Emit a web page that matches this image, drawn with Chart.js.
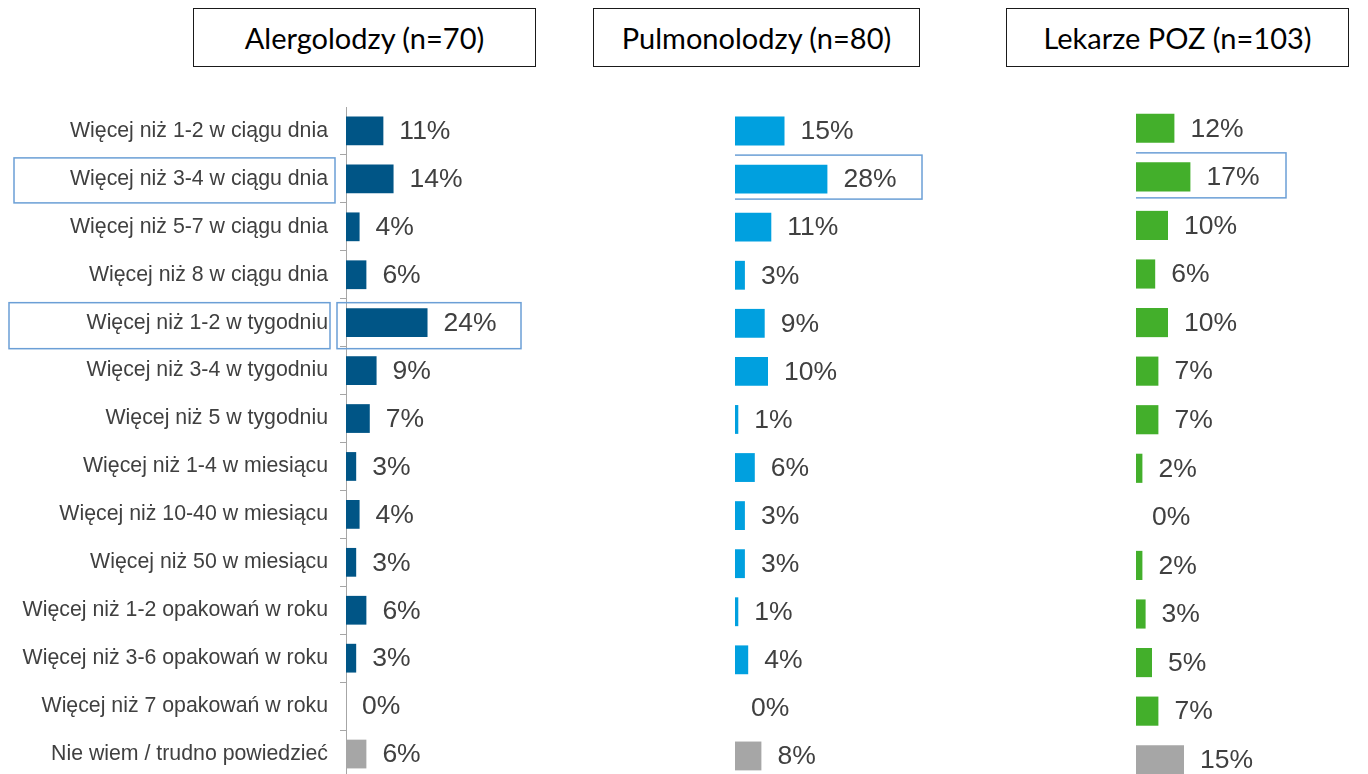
<!DOCTYPE html>
<html lang="pl">
<head>
    <meta charset="UTF-8">
    <title>Częstotliwość stosowania</title>
    <script src="https://cdn.jsdelivr.net/npm/chart.js@4.4.1/dist/chart.umd.min.js"></script>
    <style>
        html, body {
            margin: 0;
            padding: 0;
            width: 1368px;
            height: 774px;
            overflow: hidden;
            background: #ffffff;
        }

        .title-box {
            position: absolute;
            top: 8px;
            height: 57px;
            border: 1.5px solid #1a1a1a;
            display: flex;
            justify-content: center;
            align-items: center;
            font-family: 'Lato', 'Open Sans', sans-serif;
            font-size: 29px;
            color: #000;
            box-sizing: content-box;
        }

        .chart-wrap {
            position: absolute;
        }
    </style>
</head>
<body>

    <div class="title-box" style="left:193px; width:341px;">Alergolodzy (n=70)</div>
    <div class="title-box" style="left:593px; width:325px;">Pulmonolodzy (n=80)</div>
    <div class="title-box" style="left:1006px; width:341px;">Lekarze POZ (n=103)</div>

    <div class="chart-wrap" style="left:0px; top:107px; width:560px; height:671px;">
        <canvas id="chartAlerg"></canvas>
    </div>
    <div class="chart-wrap" style="left:735px; top:107px; width:231px; height:673px;">
        <canvas id="chartPulmo"></canvas>
    </div>
    <div class="chart-wrap" style="left:1136px; top:104px; width:192px; height:680px;">
        <canvas id="chartPoz"></canvas>
    </div>

    <script>
        // categories (answers)
        const categories = [
            'Więcej niż 1-2 w ciągu dnia',
            'Więcej niż 3-4 w ciągu dnia',
            'Więcej niż 5-7 w ciągu dnia',
            'Więcej niż 8 w ciągu dnia',
            'Więcej niż 1-2 w tygodniu',
            'Więcej niż 3-4 w tygodniu',
            'Więcej niż 5 w tygodniu',
            'Więcej niż 1-4 w miesiącu',
            'Więcej niż 10-40 w miesiącu',
            'Więcej niż 50 w miesiącu',
            'Więcej niż 1-2 opakowań w roku',
            'Więcej niż 3-6 opakowań w roku',
            'Więcej niż 7 opakowań w roku',
            'Nie wiem / trudno powiedzieć'
        ];

        // series values (%)
        const alergolodzy  = [11, 14, 4, 6, 24, 9, 7, 3, 4, 3, 6, 3, 0, 6];
        const pulmonolodzy = [15, 28, 11, 3, 9, 10, 1, 6, 3, 3, 1, 4, 0, 8];
        const lekarzePOZ   = [12, 17, 10, 6, 10, 7, 7, 2, 0, 2, 3, 5, 7, 15];

        const textColor = '#404040';
        const boxColor = '#6b9fd6';
        Chart.defaults.font.family = "'Liberation Sans', Arial, sans-serif";
        Chart.defaults.color = textColor;

        // last bar ("Nie wiem") is grey
        function barColors(main) {
            return categories.map((c, i) => i === categories.length - 1 ? '#a6a6a6' : main);
        }

        // value labels at the end of each bar
        const valueLabels = {
            id: 'valueLabels',
            afterDatasetsDraw(chart) {
                const ctx = chart.ctx;
                const meta = chart.getDatasetMeta(0);
                const data = chart.data.datasets[0].data;
                ctx.save();
                ctx.font = "26.5px 'Liberation Sans', Arial, sans-serif";
                ctx.fillStyle = textColor;
                ctx.textBaseline = 'middle';
                ctx.textAlign = 'left';
                meta.data.forEach((bar, i) => {
                    ctx.fillText(data[i] + '%', bar.x + 16, bar.y + 1);
                });
                ctx.restore();
            }
        };

        // light blue frames around highlighted rows
        const highlightBoxes = {
            id: 'highlightBoxes',
            afterDraw(chart, args, opts) {
                const boxes = opts.boxes || [];
                const ctx = chart.ctx;
                const yScale = chart.scales.y;
                ctx.save();
                ctx.strokeStyle = boxColor;
                ctx.lineWidth = 1.5;
                boxes.forEach(b => {
                    const yc = yScale.getPixelForValue(b.index);
                    ctx.strokeRect(b.x1, yc - b.up, b.x2 - b.x1, b.up + b.down);
                });
                ctx.restore();
            }
        };

        function makeChart(id, values, color, max, showAxis, boxes) {
            return new Chart(document.getElementById(id), {
                type: 'bar',
                data: {
                    labels: categories,
                    datasets: [{
                        data: values,
                        backgroundColor: barColors(color),
                        barPercentage: 0.6,
                        categoryPercentage: 1.0
                    }]
                },
                options: {
                    indexAxis: 'y',
                    responsive: true,
                    maintainAspectRatio: false,
                    animation: false,
                    layout: { padding: 0 },
                    plugins: {
                        legend: { display: false },
                        tooltip: { enabled: false },
                        highlightBoxes: { boxes: boxes }
                    },
                    scales: {
                        x: {
                            display: false,
                            min: 0,
                            max: max
                        },
                        y: {
                            display: showAxis,
                            afterFit(scale) {
                                if (showAxis) scale.width = 346;
                                scale.paddingTop = 0;
                                scale.paddingBottom = 0;
                            },
                            border: { display: true, color: '#a6a6a6', width: 1 },
                            grid: {
                                drawOnChartArea: false,
                                drawTicks: true,
                                tickLength: 6,
                                color: '#a6a6a6'
                            },
                            ticks: {
                                padding: 12,
                                color: textColor,
                                font: { size: 21.3 }
                            }
                        }
                    }
                },
                plugins: [valueLabels, highlightBoxes]
            });
        }

        makeChart('chartAlerg', alergolodzy, '#005586', 63, true, [
            { index: 1, x1: 14, x2: 335, up: 21, down: 24 },
            { index: 4, x1: 9, x2: 330, up: 20, down: 26 },
            { index: 4, x1: 337, x2: 521, up: 20, down: 26 }
        ]);
        makeChart('chartPulmo', pulmonolodzy, '#00a0df', 70, false, [
            { index: 1, x1: -12, x2: 187, up: 24, down: 20 }
        ]);
        makeChart('chartPoz', lekarzePOZ, '#43af2b', 60, false, [
            { index: 1, x1: -4, x2: 150, up: 24, down: 21 }
        ]);
    </script>
</body>
</html>
